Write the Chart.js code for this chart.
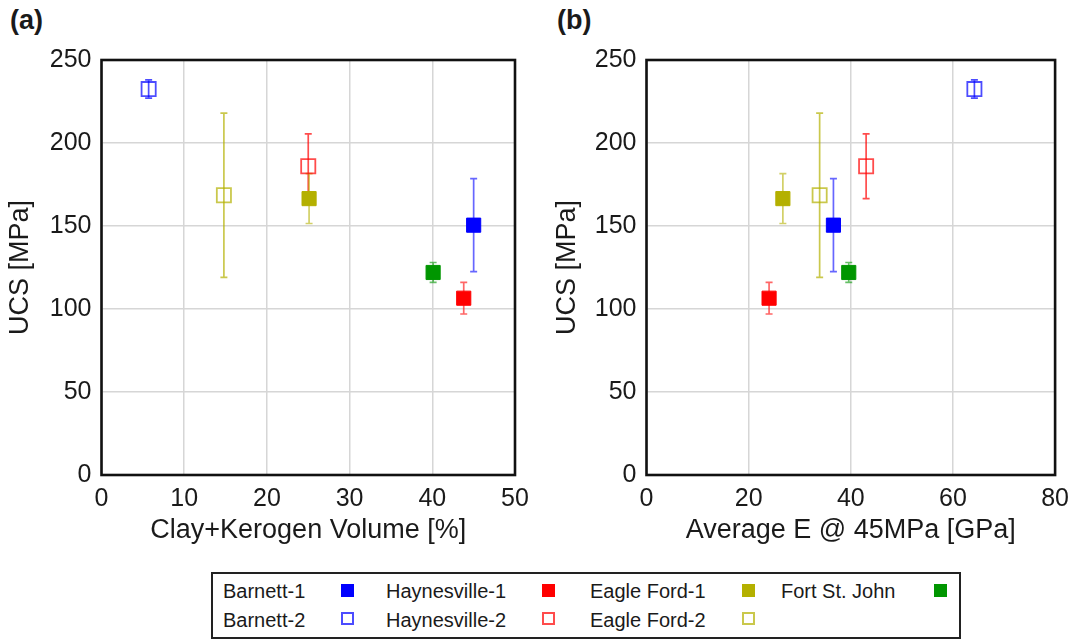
<!DOCTYPE html>
<html>
<head>
<meta charset="utf-8">
<script src="https://cdn.jsdelivr.net/npm/chart.js@4/dist/chart.umd.min.js"></script>
<style>
  html, body { margin: 0; padding: 0; background: #fff; }
  body { width: 1078px; height: 640px; position: relative; overflow: hidden;
         font-family: "Liberation Sans", Arial, sans-serif; color: #1a1a1a; }
  canvas { position: absolute; top: 0; }
  #chartA { left: 0; }
  #chartB { left: 547px; }
  .panel { position: absolute; top: 5px; font-weight: bold; font-size: 27px; line-height: 30px; }
  #legend { position: absolute; left: 211px; top: 572px; width: 746px; height: 63px;
            border: 2px solid #222; }
  .lg-text { position: absolute; font-size: 20px; line-height: 22px; white-space: nowrap; }
  .lg-mark { position: absolute; width: 13px; height: 13px; box-sizing: border-box; }
</style>
</head>
<body>
<div class="panel" style="left:10px">(a)</div>
<div class="panel" style="left:557px">(b)</div>
<canvas id="chartA" width="540" height="560"></canvas>
<canvas id="chartB" width="531" height="560"></canvas>
<div id="legend"></div>

<script>
// Sample sets
const sampleNames = ['Barnett-1', 'Barnett-2', 'Haynesville-1', 'Haynesville-2',
                     'Eagle Ford-1', 'Eagle Ford-2', 'Fort St. John'];
// Clay + kerogen volume [%]
const clayKerogen = [45.0, 5.7, 43.8, 25.0, 25.1, 14.8, 40.1];
// Average Young's modulus at 45 MPa [GPa]
const averageE = [36.6, 64.2, 24.0, 43.0, 26.7, 33.9, 39.6];
// Unconfined compressive strength [MPa] and its spread
const ucsMean = [150.5, 232.5, 106.5, 186.0, 166.5, 168.5, 122.0];
const ucsError = [28.0, 5.5, 9.5, 19.5, 15.0, 49.5, 6.0];

// Tick layout
const ucsTicks = [0, 50, 100, 150, 200, 250];
const clayTicks = [0, 10, 20, 30, 40, 50];
const eTicks = [0, 20, 40, 60, 80];

// Marker styling per sample set
const baseColors = ['#0000ff', '#0000ff', '#ff0000', '#ff0000', '#b4b000', '#b4b000', '#009600'];
const hollow = [false, true, false, true, false, true, false];
const rgbOf = hex => [1, 3, 5].map(i => parseInt(hex.slice(i, i + 2), 16));
const rgba = (hex, a) => `rgba(${rgbOf(hex).join(',')},${a})`;

Chart.defaults.font.family = '"Liberation Sans", Arial, sans-serif';
Chart.defaults.color = '#1a1a1a';

// Vertical error bars with small caps, drawn under the markers
const errorBars = {
  id: 'errorBars',
  beforeDatasetsDraw(chart) {
    const { ctx, scales: { x, y } } = chart;
    chart.data.datasets.forEach(ds => {
      ds.data.forEach(pt => {
        const px = x.getPixelForValue(pt.x);
        const top = y.getPixelForValue(pt.y + pt.err);
        const bot = y.getPixelForValue(pt.y - pt.err);
        ctx.save();
        ctx.strokeStyle = ds.errorColor;
        ctx.lineWidth = 1.7;
        ctx.beginPath();
        ctx.moveTo(px, top); ctx.lineTo(px, bot);
        ctx.moveTo(px - 3.5, top); ctx.lineTo(px + 3.5, top);
        ctx.moveTo(px - 3.5, bot); ctx.lineTo(px + 3.5, bot);
        ctx.stroke();
        ctx.restore();
      });
    });
  }
};

// Black frame around the plotting area
const frame = {
  id: 'frame',
  beforeDatasetsDraw(chart) {
    const { ctx, chartArea: a } = chart;
    ctx.save();
    ctx.strokeStyle = '#111';
    ctx.lineWidth = 2.6;
    ctx.strokeRect(a.left, a.top, a.right - a.left, a.bottom - a.top);
    ctx.restore();
  }
};

function buildDatasets(xValues) {
  return sampleNames.map((name, i) => ({
    label: name,
    data: [{ x: xValues[i], y: ucsMean[i], err: ucsError[i] }],
    pointStyle: 'rect',
    pointRadius: 10,
    pointHoverRadius: 10,
    borderWidth: hollow[i] ? 1.8 : 1,
    backgroundColor: hollow[i] ? 'rgba(0,0,0,0)' : baseColors[i],
    borderColor: hollow[i] ? rgba(baseColors[i], 0.7) : baseColors[i],
    errorColor: rgba(baseColors[i], hollow[i] ? 0.7 : 0.6)
  }));
}

function makeChart(canvasId, xValues, xTicks, xTitle, yAxisWidth, rightPad) {
  const gridStyle = { color: '#d6d6d6', lineWidth: 1.5, drawTicks: false };
  return new Chart(document.getElementById(canvasId), {
    type: 'scatter',
    data: { datasets: buildDatasets(xValues) },
    options: {
      responsive: false,
      devicePixelRatio: 1,
      animation: false,
      events: [],
      layout: { padding: { top: 60, right: rightPad, left: 0, bottom: 0 } },
      plugins: { legend: { display: false }, tooltip: { enabled: false } },
      scales: {
        x: {
          type: 'linear',
          min: xTicks[0],
          max: xTicks[xTicks.length - 1],
          afterBuildTicks: s => { s.ticks = xTicks.map(v => ({ value: v })); },
          afterFit: s => { s.height = 85; },
          grid: gridStyle,
          border: { display: false },
          ticks: { font: { size: 25 }, padding: 9, color: '#1a1a1a', maxRotation: 0 },
          title: { display: true, text: xTitle, font: { size: 27 }, color: '#1a1a1a',
                   padding: { top: 0, bottom: 13 } }
        },
        y: {
          type: 'linear',
          min: ucsTicks[0],
          max: ucsTicks[ucsTicks.length - 1],
          afterBuildTicks: s => { s.ticks = ucsTicks.map(v => ({ value: v })); },
          afterFit: s => { s.width = yAxisWidth; },
          grid: gridStyle,
          border: { display: false },
          ticks: { font: { size: 25 }, padding: 10, color: '#1a1a1a' },
          title: { display: true, text: 'UCS [MPa]', font: { size: 27 }, color: '#1a1a1a',
                   padding: { top: 4, bottom: 0 } }
        }
      }
    },
    plugins: [frame, errorBars]
  });
}

makeChart('chartA', clayKerogen, clayTicks, 'Clay+Kerogen Volume [%]', 101.5, 25);
makeChart('chartB', averageE, eTicks, 'Average E @ 45MPa [GPa]', 99.5, 17.5);

// Legend: two rows, label followed by its marker
const legendCols = [
  { text: 10, mark: 128 },
  { text: 173, mark: 329 },
  { text: 377, mark: 529 },
  { text: 568, mark: 721 }
];
const legendRows = [{ text: 6, mark: 10 }, { text: 35, mark: 38 }];
const legendOrder = [[0, 0, 0], [2, 1, 0], [4, 2, 0], [6, 3, 0], [1, 0, 1], [3, 1, 1], [5, 2, 1]];
const legend = document.getElementById('legend');
legendOrder.forEach(([idx, col, row]) => {
  const t = document.createElement('div');
  t.className = 'lg-text';
  t.textContent = sampleNames[idx];
  t.style.left = legendCols[col].text + 'px';
  t.style.top = legendRows[row].text + 'px';
  legend.appendChild(t);
  const m = document.createElement('div');
  m.className = 'lg-mark';
  m.style.left = legendCols[col].mark + 'px';
  m.style.top = legendRows[row].mark + 'px';
  if (hollow[idx]) {
    m.style.border = '2px solid ' + rgba(baseColors[idx], 0.7);
  } else {
    m.style.background = baseColors[idx];
  }
  legend.appendChild(m);
});
</script>
</body>
</html>
